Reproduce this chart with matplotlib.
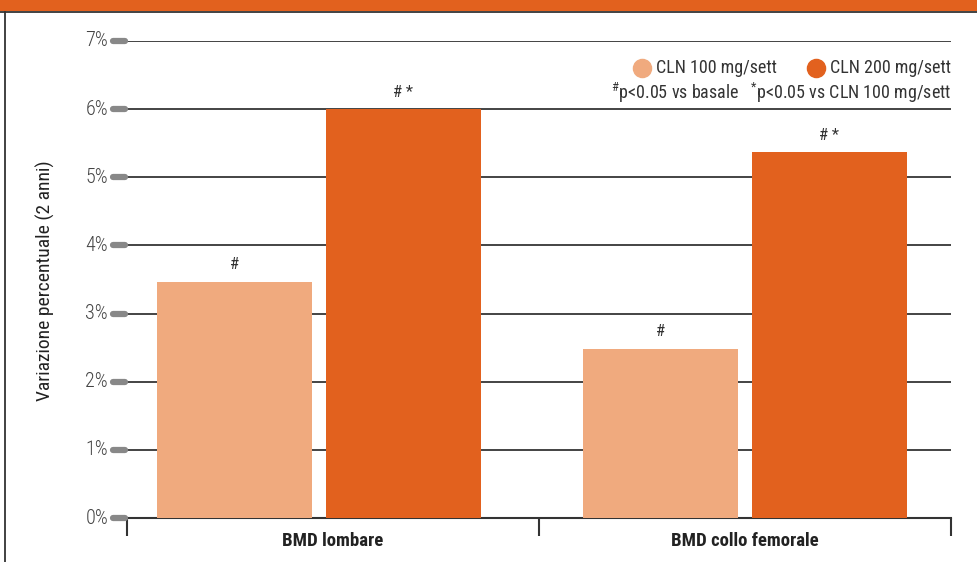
import matplotlib
matplotlib.use("Agg")
import matplotlib.pyplot as plt
from matplotlib.lines import Line2D
from matplotlib.patches import Rectangle
import matplotlib.transforms as mtransforms

plt.rcParams["font.family"] = ["Roboto Condensed", "DejaVu Sans"]
plt.rcParams["mathtext.fontset"] = "custom"
plt.rcParams["mathtext.rm"] = "Roboto Condensed"
plt.rcParams["mathtext.it"] = "Roboto Condensed"

# ── data ──────────────────────────────────────────────────────────────────────
categories = ["BMD lombare", "BMD collo femorale"]
series_names = ["CLN 100 mg/sett", "CLN 200 mg/sett"]
cln100 = [3.47, 2.48]
cln200 = [6.0, 5.37]
marks100 = ["#", "#"]
marks200 = ["# *", "# *"]
yticks = [0, 1, 2, 3, 4, 5, 6, 7]
ytick_labels = ["0%", "1%", "2%", "3%", "4%", "5%", "6%", "7%"]

ORANGE = "#E2611E"
LIGHT = "#F0AA7E"
TICK_GRAY = "#888888"
TEXT = "#333333"

fig = plt.figure(figsize=(9.78, 5.62), dpi=100)

# header band and frame line
fig.patches.append(Rectangle((0, 1 - 11 / 562), 1, 11 / 562, transform=fig.transFigure,
                             facecolor=ORANGE, edgecolor="none"))
fig.lines.append(Line2D([0, 1], [1 - 12 / 562] * 2, transform=fig.transFigure,
                        color="#333333", lw=1.3))
fig.lines.append(Line2D([5 / 978] * 2, [0, 1 - 12 / 562], transform=fig.transFigure,
                        color="#333333", lw=1.3))

ax = fig.add_axes([127 / 978, 1 - 518 / 562, 824 / 978, 477 / 562])

width = 0.378
gap = 0.016
group_shift = [-0.034, 0.0]
x = [i + s for i, s in enumerate(group_shift)]
x100 = [xi - gap - width / 2 for xi in x]
x200 = [xi + gap + width / 2 for xi in x]

ax.bar(x100, cln100, width, color=LIGHT, zorder=3)
ax.bar(x200, cln200, width, color=ORANGE, zorder=3)

for xi, v, m in zip(x100, cln100, marks100):
    ax.text(xi, v + 0.14, m, ha="center", va="bottom", fontsize=12, color=TEXT)
for xi, v, m in zip(x200, cln200, marks200):
    ax.text(xi, v + 0.14, m, ha="center", va="bottom", fontsize=12, color=TEXT)

ax.set_xlim(-0.5, 1.5)
ax.set_ylim(0, 7)

# horizontal grid
for y in yticks[1:]:
    ax.axhline(y, color="#111111", lw=1.1, zorder=2)

# rounded gray y-ticks
trans = mtransforms.blended_transform_factory(ax.transAxes, ax.transData)
for y, lab in zip(yticks, ytick_labels):
    ax.plot([-0.017, -0.003], [y, y], transform=trans, color=TICK_GRAY, lw=4.5,
            solid_capstyle="round", clip_on=False, zorder=4)
    ax.text(-0.023, y, lab, transform=trans, ha="right", va="center",
            fontsize=14.5, fontweight="light", color="#444444")

ax.set_yticks([])
ax.set_xticks([-0.5, 0.5, 1.5])
ax.set_xticklabels([])
ax.tick_params(axis="x", length=13, width=1.5, color="#333333", direction="out")
for i, cat in enumerate(categories):
    ax.text(i, -0.2, cat, ha="center", va="top", fontsize=13.5, fontweight="bold",
            color="#222222")

for s in ["top", "right", "left"]:
    ax.spines[s].set_visible(False)
ax.spines["bottom"].set_color("#333333")
ax.spines["bottom"].set_linewidth(1.5)

fig.text(45 / 978, 1 - 281 / 562, "Variazione percentuale (2 anni)", rotation=90,
         ha="center", va="center", fontsize=14, color="#222222")

# legend + significance note
ax.scatter([0.6245], [6.6], s=170, color=LIGHT, transform=trans, clip_on=False, zorder=5)
ax.text(0.6415, 6.6, series_names[0], transform=trans, ha="left", va="center",
        fontsize=13, color=TEXT)
ax.scatter([0.836], [6.6], s=170, color=ORANGE, transform=trans, clip_on=False, zorder=5)
ax.text(1.0, 6.6, series_names[1], transform=trans, ha="right", va="center",
        fontsize=13, color=TEXT)
ax.text(1.0, 6.24, r"$^{\#}$p<0.05 vs basale   $^{*}$p<0.05 vs CLN 100 mg/sett",
        transform=trans, ha="right", va="center", fontsize=13, color=TEXT)

fig.savefig("out.png", dpi=100)
